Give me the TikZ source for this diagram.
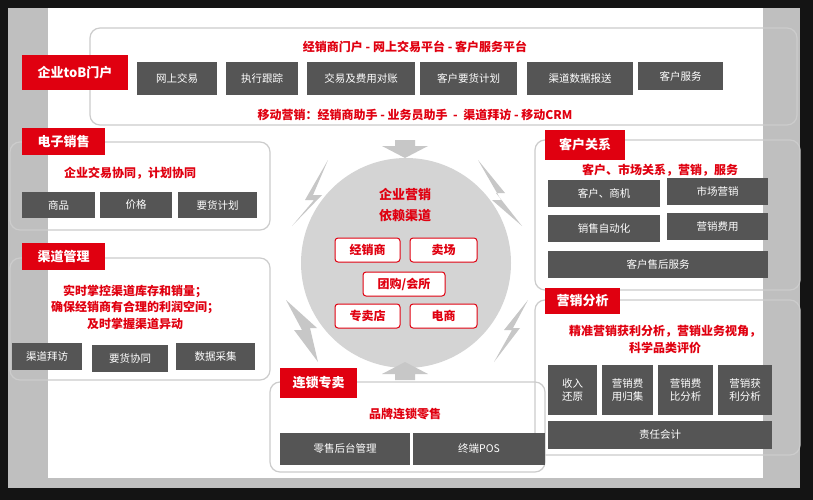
\documentclass[tikz,border=0pt]{standalone}
\usepackage{fontspec}
\setmainfont{Noto Sans CJK SC}
\usetikzlibrary{arrows.meta}
\definecolor{rd}{HTML}{E00010}
\definecolor{gb}{HTML}{555555}
\tikzset{
 gbox/.style={fill=gb,text=white,inner sep=0pt,font=\fontsize{10.5}{12}\selectfont},
 rlab/.style={fill=rd,text=white,inner sep=0pt,font=\bfseries\fontsize{13}{15}\selectfont},
 rtext/.style={text=rd,font=\bfseries\fontsize{12}{14}\selectfont,align=center},
 frame/.style={draw=black!20,line width=1.2pt,rounded corners=10pt},
 rbox/.style={draw=rd,line width=1pt,rounded corners=3pt,fill=white,text=rd,inner sep=0pt,font=\bfseries\fontsize{12}{14}\selectfont},
 garrow/.style={fill=black!22,draw=none}
}
\newcommand{\bx}[6]{\node[#1,minimum width=#4-#2,minimum height=#5-#3] (#6) at ({(#2+#4)/2},{(#3+#5)/2})}
\begin{document}
\begin{tikzpicture}[x=1pt,y=-1pt]
\fill[black!92] (0,0) rectangle (813,500);
\fill[black!25] (8,8) rectangle (800,488);
\fill[white] (48,8) rectangle (763,478);
% frames
\draw[frame] (90,28) rectangle (797,125);
\draw[frame] (10,142) rectangle (270,230);
\draw[frame] (10,258) rectangle (270,380);
\draw[frame] (535,140) rectangle (800,290);
\draw[frame] (535,300) rectangle (800,455);
\draw[frame] (270,382) rectangle (545,472);
% circle
\fill[black!17] (406,263) circle (105);
% arrows
\fill[garrow] (395,140) -- (415,140) -- (415,146) -- (428,146) -- (405,158) -- (382,146) -- (395,146) -- cycle;
\fill[garrow] (395,380) -- (415,380) -- (415,374) -- (428,374) -- (405,362) -- (382,374) -- (395,374) -- cycle;
\fill[garrow] (328,160) -- (305,200) -- (314,200) -- (292,226) -- (322,195) -- (313,195) -- cycle;
\fill[garrow] (478,160) -- (501,200) -- (492,200) -- (522,226) -- (496,193) -- (505,193) -- cycle;
\fill[garrow] (286,300) -- (302,330) -- (294,330) -- (318,362) -- (310,328) -- (317,328) -- cycle;
\fill[garrow] (528,300) -- (504,330) -- (512,330) -- (494,362) -- (520,328) -- (513,328) -- cycle;
% texts
\node[rtext] (t1) at (415,47) {经销商门户 - 网上交易平台 - 客户服务平台};
\node[rtext] (t2) at (415,115) {移动营销：经销商助手 - 业务员助手 \ - \ 渠道拜访 - 移动CRM};
\bx{rlab}{22}{55}{128}{90}{l1} {企业toB门户};
\bx{gbox}{137}{62}{217}{95}{a1} {网上交易};
\bx{gbox}{226}{62}{298}{95}{a2} {执行跟踪};
\bx{gbox}{307}{62}{415}{95}{a3} {交易及费用对账};
\bx{gbox}{420}{62}{517}{95}{a4} {客户要货计划};
\bx{gbox}{527}{62}{633}{95}{a5} {渠道数据报送};
\bx{gbox}{638}{62}{723}{90}{a6} {客户服务};
% 电子销售
\bx{rlab}{22}{128}{105}{155}{l2} {电子销售};
\node[rtext] (t3) at (130,173) {企业交易协同，计划协同};
\bx{gbox}{22}{192}{95}{218}{b1} {商品};
\bx{gbox}{100}{192}{172}{218}{b2} {价格};
\bx{gbox}{178}{192}{257}{218}{b3} {要货计划};
% 渠道管理
\bx{rlab}{22}{243}{105}{270}{l3} {渠道管理};
\node[rtext,font=\bfseries\fontsize{12}{16.5}\selectfont] (t4) at (135,307) {实时掌控渠道库存和销量；\\确保经销商有合理的利润空间；\\及时掌握渠道异动};
\bx{gbox}{12}{343}{82}{370}{c1} {渠道拜访};
\bx{gbox}{92}{345}{168}{372}{c2} {要货协同};
\bx{gbox}{176}{343}{255}{370}{c3} {数据采集};
% centre
\node[rtext,font=\bfseries\fontsize{13}{21}\selectfont] (t5) at (405,205) {企业营销\\依赖渠道};
\bx{rbox}{335}{238}{400}{262}{d1} {经销商};
\bx{rbox}{410}{238}{477}{262}{d2} {卖场};
\bx{rbox}{363}{272}{445}{296}{d3} {团购/会所};
\bx{rbox}{335}{304}{400}{328}{d4} {专卖店};
\bx{rbox}{410}{304}{477}{328}{d5} {电商};
% 客户关系
\bx{rlab}{545}{130}{625}{160}{l4} {客户关系};
\node[rtext] (t6) at (660,170) {客户、市场关系，营销，服务};
\bx{gbox}{548}{180}{660}{207}{e1} {客户、商机};
\bx{gbox}{667}{178}{768}{205}{e2} {市场营销};
\bx{gbox}{548}{215}{660}{242}{e3} {销售自动化};
\bx{gbox}{667}{213}{768}{240}{e4} {营销费用};
\bx{gbox}{548}{251}{768}{278}{e5} {客户售后服务};
% 营销分析
\bx{rlab}{545}{288}{620}{314}{l5} {营销分析};
\node[rtext,font=\bfseries\fontsize{12}{17}\selectfont] (t7) at (665,339) {精准营销获利分析，营销业务视角，\\科学品类评价};
\bx{gbox,align=center,font=\fontsize{10.5}{12.5}\selectfont}{548}{365}{597}{415}{f1} {收入\\还原};
\bx{gbox,align=center,font=\fontsize{10.5}{12.5}\selectfont}{602}{365}{653}{415}{f2} {营销费\\用归集};
\bx{gbox,align=center,font=\fontsize{10.5}{12.5}\selectfont}{658}{365}{713}{415}{f3} {营销费\\比分析};
\bx{gbox,align=center,font=\fontsize{10.5}{12.5}\selectfont}{718}{365}{772}{415}{f4} {营销获\\利分析};
\bx{gbox}{548}{421}{772}{449}{f5} {责任会计};
% 连锁专卖
\bx{rlab}{280}{368}{357}{398}{l6} {连锁专卖};
\node[rtext] (t8) at (405,414) {品牌连锁零售};
\bx{gbox}{280}{433}{410}{465}{g1} {零售后台管理};
\bx{gbox}{413}{433}{545}{465}{g2} {终端POS};
\end{tikzpicture}
\end{document}
